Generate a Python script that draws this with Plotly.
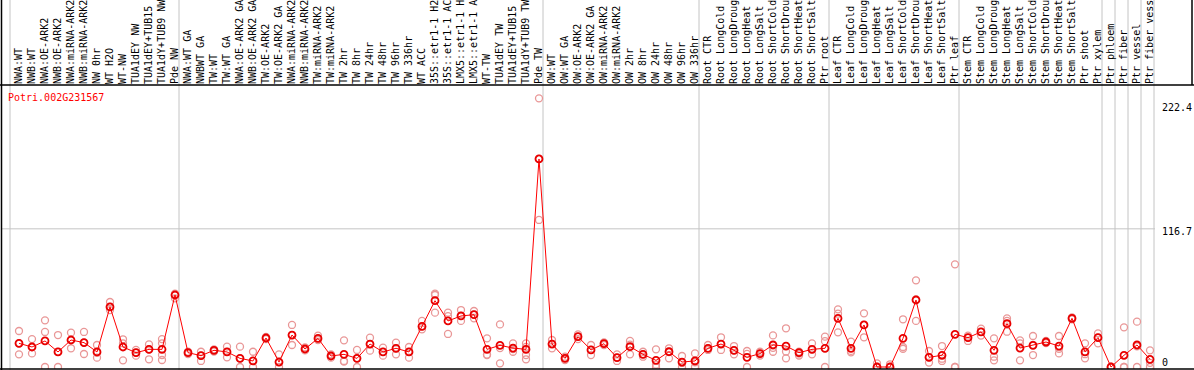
import plotly.graph_objects as go

# ---------------- data ----------------
gene_name = "Potri.002G231567"

group_sizes = [13, 28, 12, 10, 10, 11, 1, 1, 1, 1]

categories = [
    "NWA:WT", "NWB:WT", "NWA:OE-ARK2", "NWB:OE-ARK2", "NWA:miRNA-ARK2", "NWB:miRNA-ARK2",
    "NW 0hr", "WT H2O", "WT-NW", "TUA1dEY NW", "TUA1dEY+TUB15 NW", "TUA1dY+TUB9 NW", "Pde NW",
    "NWA:WT GA", "NWBWT GA", "TW:WT", "TW:WT GA", "NWA:OE-ARK2 GA", "NWB:OE-ARK2 GA",
    "TW:OE-ARK2", "TW:OE-ARK2 GA", "NWA:miRNA-ARK2 GA", "NWB:miRNA-ARK2 GA", "TW:miRNA-ARK2",
    "TW:miRNA-ARK2 GA", "TW 2hr", "TW 8hr", "TW 24hr", "TW 48hr", "TW 96hr", "TW 336hr",
    "WT ACC", "35S::etr1-1 H2O", "35S::etr1-1 ACC", "LMX5::etr1-1 H2O", "LMX5::etr1-1 ACC",
    "WT-TW", "TUA1dEY TW", "TUA1dEY+TUB15 TW", "TUA1dY+TUB9 TW", "Pde TW",
    "OW:WT", "OW:WT GA", "OW:OE-ARK2", "OW:OE-ARK2 GA", "OW:miRNA-ARK2", "OW:miRNA-ARK2 GA",
    "OW 2hr", "OW 8hr", "OW 24hr", "OW 48hr", "OW 96hr", "OW 336hr",
    "Root CTR", "Root LongCold", "Root LongDrought", "Root LongHeat", "Root LongSalt",
    "Root ShortCold", "Root ShortDrought", "Root ShortHeat", "Root ShortSalt", "Ptr root",
    "Leaf CTR", "Leaf LongCold", "Leaf LongDrought", "Leaf LongHeat", "Leaf LongSalt",
    "Leaf ShortCold", "Leaf ShortDrought", "Leaf ShortHeat", "Leaf ShortSalt", "Ptr leaf",
    "Stem CTR", "Stem LongCold", "Stem LongDrought", "Stem LongHeat", "Stem LongSalt",
    "Stem ShortCold", "Stem ShortDrought", "Stem ShortHeat", "Stem ShortSalt", "Ptr shoot",
    "Ptr xylem",
    "Ptr phloem", "Ptr fiber", "Ptr vessel", "Ptr fiber vessel",
]

mean_values = [
    20.0, 16.9, 22.0, 12.7, 22.8, 20.6, 12.7, 50.7, 16.9, 12.1, 14.9, 14.9, 60.8,
    12.1, 9.6, 14.1, 12.7, 7.3, 5.1, 24.5, 4.2, 27.0, 15.2, 24.2, 9.3, 10.7, 7.3,
    19.4, 12.7, 15.8, 12.7, 34.3, 56.0, 38.9, 43.1, 44.2, 14.9, 18.3, 16.0, 14.9, 175.7,
    19.4, 7.3, 25.6, 14.4, 19.7, 7.9, 17.2, 10.7, 5.6, 12.9, 4.2, 5.1,
    15.8, 19.4, 14.1, 8.2, 11.3, 18.6, 17.7, 12.1, 14.9, 15.8,
    41.1, 15.8, 35.5, 0.0, 0.0, 24.2, 56.6, 8.2, 9.9, 27.6,
    24.8, 29.6, 14.1, 36.6, 16.0, 18.3, 21.1, 17.7, 41.1, 12.7, 24.8,
    0.0, 9.9, 18.6, 6.5,
]

replicates = [
    [30.4, 20.0, 10.7], [23.6, 16.9, 11.5], [39.4, 29.6, 0.0], [27.0, 12.7, 0.0],
    [29.0, 22.8, 15.8], [29.6, 20.6, 11.0], [18.6, 12.0, 7.9], [54.9, 50.7, 48.1],
    [23.4, 20.0, 5.6], [14.4, 12.1, 9.6], [19.1, 14.9, 6.5], [23.6, 20.0, 10.1, 5.9],
    [61.9, 60.8, 58.0],
    [12.9, 12.1, 11.0], [12.9, 9.6, 5.1], [14.9, 14.1, 13.0], [17.2, 12.7, 8.2],
    [17.2, 7.3, 0.0], [12.9, 5.1, 0.0], [25.5, 24.5, 23.5], [10.7, 4.2, 0.0],
    [35.5, 27.0, 18.6], [16.6, 15.2, 14.0], [26.5, 22.8, 23.3], [10.7, 9.3, 7.9],
    [22.5, 5.1, 4.5], [14.4, 7.3, 0.0], [24.8, 19.4, 13.8], [16.3, 12.7, 9.6],
    [20.6, 15.8, 10.7], [16.9, 12.7, 7.9], [38.9, 34.3, 31.8], [61.9, 60.8, 45.9],
    [45.9, 42.9, 27.9], [48.1, 43.1, 38.9], [47.3, 44.2, 41.1], [24.2, 10.5, 10.1],
    [36.0, 16.0, 3.1], [20.0, 15.1, 12.9], [20.0, 17.0, 10.1, 6.5], [226.9, 175.7, 124.2],
    [22.8, 19.6, 15.8], [8.7, 7.3, 5.9], [27.6, 25.6, 23.6], [18.6, 14.4, 10.1],
    [20.8, 19.7, 18.6], [10.7, 7.9, 5.1], [22.0, 18.9, 10.7], [12.9, 10.7, 8.7],
    [14.9, 2.0, 0.0], [15.8, 12.9, 7.3], [9.3, 3.4, 0.0], [11.5, 4.0, 0.0],
    [18.6, 15.8, 14.4], [25.1, 19.4, 14.4], [17.7, 14.1, 10.7], [13.5, 11.1, 0.0],
    [12.9, 11.3, 9.7], [26.7, 16.2, 12.9], [32.7, 13.1, 7.3], [12.9, 11.3, 9.7],
    [20.0, 14.9, 10.7], [25.6, 21.8, 0.0],
    [48.7, 45.0, 29.3], [21.4, 12.4, 13.6], [45.3, 35.5, 25.1], [3.1, 0.0, 0.0],
    [2.3, 0.0, 0.0], [40.3, 16.9, 15.4], [73.2, 57.2, 38.9], [13.5, 8.2, 3.7],
    [17.7, 7.0, 5.1], [86.7, 0.0, 0.0],
    [26.5, 24.8, 22.0], [32.4, 29.6, 26.5], [24.2, 8.7, 5.6], [41.1, 38.9, 29.8],
    [22.5, 19.9, 5.6], [26.2, 18.6, 10.1], [22.0, 21.1, 20.2], [26.2, 15.4, 11.5],
    [41.9, 41.1, 40.3], [20.0, 10.8, 7.3], [28.4, 24.8, 20.0],
    [0.0, 0.0, 0.0], [33.5, 0.0, 0.0], [38.3, 17.5, 0.0], [14.1, 3.5, 0.0],
]

y_tick_values = [0, 116.7, 222.4]
y_tick_labels = ["0", "116.7", "222.4"]
y_label_shift = [5, -3, -3.5]

# ---------------- layout geometry (pixels) ----------------
W, H = 1194, 370
PL, PR, PT, PB = 1, 1155, 85, 369      # plot area
SLOT, FIRST = 13, 19                    # category spacing / first category centre
ZERO_PX, PPU = 367, 1.184               # y pixel of value 0, pixels per unit
GRID_OFF = 9 / 13                       # boundary offset left of a category centre

x_idx = list(range(len(categories)))
x_range = [(PL - FIRST) / SLOT, (PR - FIRST) / SLOT]
y_range = [(ZERO_PX - PB) / PPU, (ZERO_PX - PT) / PPU]


def px_x(p):
    return (p - PL) / (PR - PL)


def px_y(q):
    return (PB - q) / (PB - PT)


FONT = "DejaVu Sans Mono"

rep_x, rep_y = [], []
for i, reps in enumerate(replicates):
    for v in reps:
        rep_x.append(i)
        rep_y.append(v)

fig = go.Figure()
fig.add_trace(go.Scatter(
    x=rep_x, y=rep_y, mode="markers",
    marker=dict(symbol="circle-open", size=7, color="#e99797", line=dict(width=1.3)),
    hoverinfo="skip", showlegend=False,
))
fig.add_trace(go.Scatter(
    x=x_idx, y=mean_values, mode="lines+markers",
    line=dict(color="#ff0000", width=1),
    marker=dict(symbol="circle-open", size=7, color="#e80000", line=dict(width=1.8)),
    showlegend=False,
))

shapes = []
# vertical group separators (span full image height)
bounds = []
start = 0
for s in group_sizes:
    bounds.append(start - GRID_OFF)
    start += s
bounds.append(start - GRID_OFF)
for b in bounds:
    shapes.append(dict(type="line", xref="x", yref="paper", x0=b, x1=b,
                       y0=px_y(H + 2), y1=px_y(-2), line=dict(color="#c4c4c4", width=1),
                       layer="below"))
# horizontal grid line at middle tick
shapes.append(dict(type="line", xref="paper", yref="y", x0=0, x1=1,
                   y0=y_tick_values[1], y1=y_tick_values[1],
                   line=dict(color="#c4c4c4", width=1), layer="below"))
# black frame lines
shapes.append(dict(type="line", xref="paper", yref="paper", x0=px_x(0), x1=px_x(W + 2),
                   y0=1, y1=1, line=dict(color="black", width=1.5)))
shapes.append(dict(type="line", xref="paper", yref="paper", x0=px_x(0), x1=px_x(W + 2),
                   y0=0, y1=0, line=dict(color="black", width=1.5)))
shapes.append(dict(type="line", xref="paper", yref="paper", x0=px_x(1.5), x1=px_x(1.5),
                   y0=px_y(H + 2), y1=px_y(-2), line=dict(color="black", width=1.5)))
shapes.append(dict(type="line", xref="paper", yref="paper", x0=px_x(1192), x1=px_x(1192),
                   y0=1, y1=px_y(-2), line=dict(color="black", width=1.5)))

annotations = [dict(
    text=gene_name, xref="paper", yref="paper", x=px_x(6), y=px_y(97),
    xanchor="left", yanchor="middle", showarrow=False,
    font=dict(family=FONT, size=10, color="#ff0000"),
)]
for v, t, sh in zip(y_tick_values, y_tick_labels, y_label_shift):
    annotations.append(dict(
        text=t, xref="paper", yref="y", x=px_x(1160), y=v, yshift=sh,
        xanchor="left", yanchor="middle", showarrow=False,
        font=dict(family=FONT, size=10, color="black"),
    ))

fig.update_layout(
    width=W, height=H,
    margin=dict(l=PL, r=W - PR, t=PT, b=H - PB, pad=0),
    paper_bgcolor="white", plot_bgcolor="white",
    font=dict(family=FONT, size=10, color="black"),
    shapes=shapes, annotations=annotations,
    xaxis=dict(
        range=x_range, side="top", tickmode="array", tickvals=x_idx, ticktext=categories,
        tickangle=-90, showgrid=False, zeroline=False, showline=False, ticks="",
        tickfont=dict(family=FONT, size=10, color="black"), automargin=False, fixedrange=True,
    ),
    yaxis=dict(
        range=y_range, side="right", tickvals=y_tick_values, showticklabels=False,
        showgrid=False, zeroline=False, showline=False, ticks="", automargin=False,
        fixedrange=True,
    ),
)

fig.write_html(
    "out.html",
    config={"displayModeBar": False},
    post_script="document.body.style.margin='0px';document.body.style.overflow='hidden';",
)
